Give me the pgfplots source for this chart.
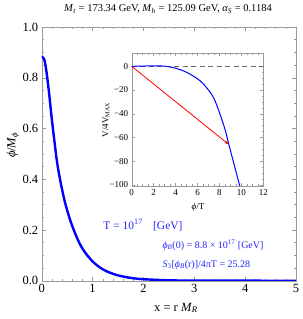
\documentclass[border=0pt]{standalone}
\usepackage{fontspec}
\setmainfont{Liberation Serif}
\usepackage{pgfplots}
\pgfplotsset{compat=1.18}
\usetikzlibrary{arrows.meta}
\definecolor{framegray}{gray}{0.6}
\definecolor{txtblue}{rgb}{0.15,0.15,1}
\begin{document}
\begin{tikzpicture}
\begin{axis}[
  name=main,
  at={(41.7pt,38.3pt)}, anchor=south west,
  scale only axis, width=254.3pt, height=253.7pt,
  xmin=0, xmax=5, ymin=0, ymax=1,
  xtick={0,1,2,3,4,5}, minor x tick num=4,
  ytick={0,0.2,0.4,0.6,0.8,1.0}, minor y tick num=3,
  yticklabels={0.0,0.2,0.4,0.6,0.8,1.0},
  tick align=inside, major tick length=4pt, minor tick length=2.2pt,
  axis line style={framegray}, every tick/.style={framegray},
  tick label style={font=\fontsize{12.5}{12.5}\selectfont, black},
  /pgf/number format/assume math mode=true,
]
\addplot[blue, line width=2.4pt, smooth] coordinates {
(0,0.883) (0.03,0.879) (0.06,0.865) (0.1,0.815) (0.15,0.73) (0.2,0.635)
(0.25,0.55) (0.3,0.47) (0.36,0.40) (0.45,0.315) (0.55,0.245) (0.65,0.19)
(0.75,0.145) (0.85,0.112) (1.0,0.076) (1.16,0.050) (1.3,0.035) (1.5,0.021)
(1.75,0.011) (2.0,0.0058) (2.5,0.0016) (3.0,0.0004) (4.0,0.00003) (5.0,0)
};
\end{axis}
\begin{axis}[
  at={(131.7pt,133pt)}, anchor=south west,
  scale only axis, width=131.6pt, height=132.7pt,
  xmin=0, xmax=12, ymin=-101, ymax=11,
  xtick={0,2,4,6,8,10,12}, minor x tick num=3,
  ytick={-100,-80,-60,-40,-20,0}, minor y tick num=3,
  yticklabels={−100,−80,−60,−40,−20,0},
  tick align=inside, major tick length=3pt, minor tick length=1.6pt,
  axis line style={framegray}, every tick/.style={framegray},
  tick label style={font=\fontsize{9}{9}\selectfont, black},
  /pgf/number format/assume math mode=true,
  axis background/.style={fill=white},
]
\addplot[black!60, dash pattern=on 5pt off 3.5pt, line width=0.6pt] coordinates {(0,0) (12,0)};
\addplot[blue, line width=1pt, smooth] coordinates {
(0,0) (1,0.2) (2,0.45) (3,0.15) (4,-1.6) (5,-5) (6,-10.5) (6.5,-14.5) (7,-20)
(7.5,-27) (8,-39) (8.5,-53) (8.86,-66) (9.2,-78) (9.5,-88.5) (9.85,-101)
};
\addplot[red, line width=0.8pt, -{Latex[length=4pt,width=3pt]}] coordinates {(0,0) (8.86,-66)};
\end{axis}
% titles and labels
\node[font=\fontsize{10.5}{10.5}\selectfont] at (168pt,310pt) {\textit{M}\textsubscript{\textit{t}} = 173.34 GeV, \textit{M}\textsubscript{\textit{h}} = 125.09 GeV, \textit{α}\textsubscript{\textit{S}} = 0.1184};
\node[font=\fontsize{12.5}{12.5}\selectfont, rotate=90] at (13pt,174pt) {\textit{ϕ}/\textit{M}\textsubscript{\textit{ϕ}}};
\node[font=\fontsize{12.5}{12.5}\selectfont] at (176pt,11pt) {x = r \textit{M}\textsubscript{\textit{R}}};
\node[font=\fontsize{9}{9}\selectfont, rotate=90] at (106pt,199pt) {V/4V\textsubscript{MAX}};
\node[font=\fontsize{9}{9}\selectfont] at (198pt,112pt) {\textit{ϕ}/T};
\node[font=\fontsize{11.5}{11.5}\selectfont, text=txtblue] at (143pt,94pt) {T = 10\textsuperscript{17}\hspace{0.9em}[GeV]};
\node[font=\fontsize{10}{10}\selectfont, text=txtblue, anchor=west] at (159pt,74pt) {\textit{ϕ}\textsubscript{\textit{B}}(0) = 8.8 × 10\textsuperscript{17} [GeV]};
\node[font=\fontsize{10}{10}\selectfont, text=txtblue, anchor=west] at (159pt,54pt) {\textit{S}\textsubscript{3}[\textit{ϕ}\textsubscript{\textit{B}}(r)]/4πT = 25.28};
\path (0pt,0pt) rectangle (300pt,319pt);
\end{tikzpicture}
\end{document}
